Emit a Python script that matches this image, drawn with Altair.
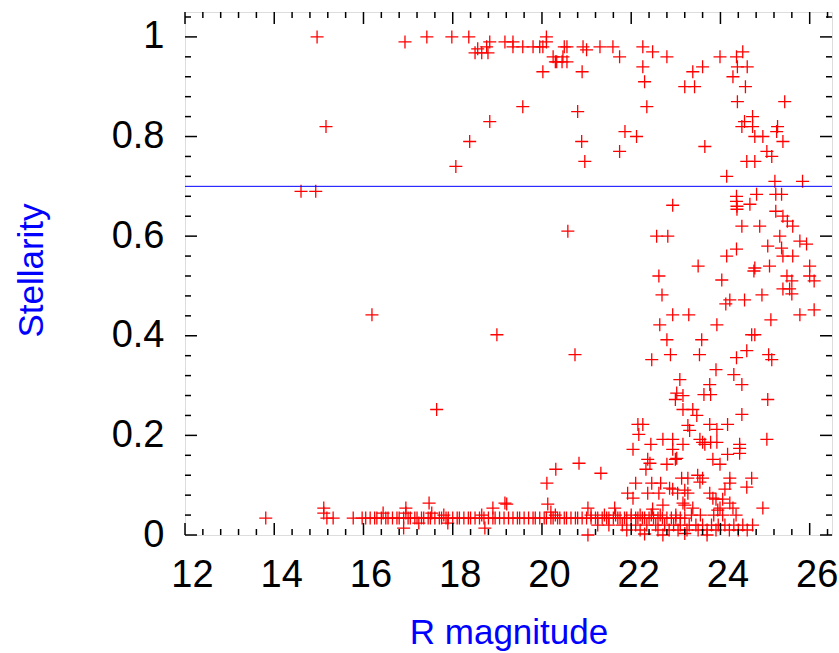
import altair as alt
import pandas as pd

# ---- data: (R magnitude, stellarity) ----
bright_pts = [
    (14.96, 1.0), (15.16, 0.82), (14.6, 0.69), (14.93, 0.69),
    (16.93, 0.99), (17.42, 1.0), (17.98, 1.0), (18.36, 1.0), (18.56, 0.976), (18.5, 0.968),
    (18.79, 0.968), (18.83, 0.99), (18.76, 0.98), (18.65, 0.968),
    (19.17, 0.99), (19.35, 0.99), (19.35, 0.98), (19.57, 0.98), (19.8, 0.98), (19.95, 0.98),
    (20.1, 1.0), (20.1, 0.99), (20.02, 0.98), (20.25, 0.96), (20.33, 0.95), (20.56, 0.95),
    (20.56, 0.98), (20.47, 0.96), (20.5, 0.98), (20.92, 0.98), (21.0, 0.974), (21.3, 0.98),
    (21.59, 0.98), (21.74, 0.96), (20.02, 0.93), (20.9, 0.93), (20.3, 0.95), (20.45, 0.95),
    (22.26, 0.98), (22.48, 0.97), (22.8, 0.96), (22.26, 0.94), (22.3, 0.91), (23.38, 0.93),
    (23.6, 0.94), (23.2, 0.90), (23.42, 0.90), (23.99, 0.96), (24.36, 0.96), (24.5, 0.97),
    (24.38, 0.94), (24.6, 0.94), (24.28, 0.92), (24.56, 0.90), (24.38, 0.87), (25.44, 0.87),
    (19.57, 0.86), (20.8, 0.85), (22.35, 0.86), (20.89, 0.79), (20.96, 0.75), (21.86, 0.81),
    (22.12, 0.80), (21.74, 0.77), (23.65, 0.78),
    (24.72, 0.84), (24.54, 0.83), (24.48, 0.82), (24.72, 0.82), (24.77, 0.80), (24.95, 0.80),
    (25.26, 0.81), (25.28, 0.82), (25.4, 0.79), (25.04, 0.77), (25.15, 0.76), (24.59, 0.75),
    (24.77, 0.75), (24.14, 0.72), (25.22, 0.71), (25.84, 0.71),
    (18.83, 0.83), (18.38, 0.79), (18.07, 0.74),
]

mid_pts = [
    (24.36, 0.68), (24.36, 0.67), (24.37, 0.66), (24.37, 0.654), (24.66, 0.664), (24.81, 0.684),
    (25.24, 0.684), (25.37, 0.684), (25.24, 0.65), (25.4, 0.64), (25.5, 0.63), (25.62, 0.62),
    (22.93, 0.662), (24.48, 0.62), (24.88, 0.62), (20.58, 0.61), (22.57, 0.60), (22.82, 0.60),
    (25.33, 0.60), (25.78, 0.59), (25.93, 0.584), (25.06, 0.58), (25.37, 0.576), (25.4, 0.56),
    (25.62, 0.56), (24.36, 0.574), (24.14, 0.56), (23.5, 0.54), (24.77, 0.536), (25.1, 0.54),
    (26.0, 0.54), (22.62, 0.52), (24.03, 0.512), (24.75, 0.53), (25.49, 0.52), (25.6, 0.51),
    (26.0, 0.52), (26.1, 0.51), (25.4, 0.494), (25.55, 0.494), (25.6, 0.484), (22.69, 0.482),
    (24.21, 0.472), (24.12, 0.464), (24.54, 0.472), (24.93, 0.482), (22.93, 0.442), (23.29, 0.442),
    (22.64, 0.422), (23.92, 0.422), (25.13, 0.432), (25.78, 0.442), (26.1, 0.452),
    (16.19, 0.442), (18.99, 0.402), (17.64, 0.252),
]

faint_pts = [
    (22.8, 0.392), (23.58, 0.392), (24.7, 0.402), (24.77, 0.402), (24.59, 0.37), (20.74, 0.362),
    (22.46, 0.352), (22.88, 0.362), (23.53, 0.362), (24.36, 0.356), (25.08, 0.362), (25.15, 0.352),
    (23.9, 0.332), (24.3, 0.322), (24.48, 0.302), (23.09, 0.312), (23.76, 0.302), (23.16, 0.28),
    (22.99, 0.272), (23.63, 0.282), (23.78, 0.282), (25.06, 0.272), (23.02, 0.285), (23.16, 0.252),
    (23.38, 0.252), (23.47, 0.24), (24.48, 0.242), (23.27, 0.22), (23.31, 0.21), (22.15, 0.222),
    (22.26, 0.222), (22.17, 0.202), (23.76, 0.222), (24.16, 0.222), (23.92, 0.212), (22.71, 0.192),
    (22.93, 0.192), (22.44, 0.182), (23.16, 0.182), (23.6, 0.186), (23.78, 0.186), (23.92, 0.186),
    (24.43, 0.182), (25.04, 0.192), (23.54, 0.192), (23.65, 0.182), (22.04, 0.172), (22.93, 0.172),
    (22.37, 0.152), (22.8, 0.142), (22.99, 0.152), (23.83, 0.152), (24.16, 0.162), (24.43, 0.164),
    (23.99, 0.142), (23.02, 0.154), (22.42, 0.144), (24.43, 0.174), (20.83, 0.144), (20.31, 0.132),
    (21.32, 0.124), (22.33, 0.132), (20.11, 0.104), (23.13, 0.114), (23.27, 0.114), (23.49, 0.12),
    (23.6, 0.114), (24.21, 0.114), (24.7, 0.114), (22.1, 0.104), (22.46, 0.104), (22.66, 0.104),
    (24.59, 0.096), (22.86, 0.094), (22.93, 0.092), (23.2, 0.09), (24.1, 0.092), (21.92, 0.084),
    (22.04, 0.074), (22.37, 0.084), (22.62, 0.084), (23.76, 0.084), (23.83, 0.074), (23.9, 0.072),
    (24.05, 0.072), (23.54, 0.106), (24.21, 0.104), (23.04, 0.084), (23.27, 0.084), (24.21, 0.064),
    (23.16, 0.064), (23.94, 0.05),
]

low_pts = [
    (19.21, 0.062), (20.13, 0.062), (20.2, 0.046), (21.03, 0.054), (21.63, 0.054), (22.71, 0.06),
    (22.48, 0.052), (23.2, 0.06), (23.38, 0.054), (23.99, 0.054), (24.28, 0.054), (24.95, 0.054),
    (13.81, 0.034), (15.11, 0.054), (15.11, 0.044), (15.18, 0.034), (15.32, 0.034), (15.77, 0.034),
    (16.44, 0.044), (16.95, 0.054), (16.95, 0.044), (16.9, 0.014), (17.47, 0.064), (17.53, 0.044),
    (17.24, 0.024), (17.89, 0.024), (18.72, 0.014), (18.9, 0.054), (19.17, 0.064),
]

band_mag = [
    15.97, 16.05, 16.15, 16.25, 16.3, 16.4, 16.5, 16.55, 16.65, 16.75, 16.8, 16.9, 17.0, 17.05,
    17.15, 17.2, 17.3, 17.35, 17.45, 17.5, 17.6, 17.7, 17.75, 17.85, 17.9, 18.0, 18.1, 18.15,
    18.25, 18.35, 18.4, 18.5, 18.6, 18.7, 18.8, 18.9, 18.95, 19.05, 19.15, 19.25, 19.35, 19.45,
    19.5, 19.6, 19.7, 19.8, 19.85, 19.95, 20.05, 20.1, 20.2, 20.25, 20.35, 20.4, 20.5, 20.55,
    20.65, 20.75, 20.8, 20.9, 21.0, 21.1, 21.2, 21.25, 21.35, 21.45, 21.5, 21.6, 21.7, 21.75,
    21.85, 21.9, 22.0, 22.1, 22.15, 22.25, 22.3, 22.4, 22.5, 22.6, 22.7, 22.8, 22.9, 23.0,
    23.1, 23.2,
]
band_stell = 0.034

floor_pts = [
    (21.25, 0.02), (21.5, 0.02), (21.8, 0.02), (22.1, 0.02), (22.35, 0.02), (22.55, 0.02),
    (22.75, 0.02), (22.95, 0.02), (23.1, 0.02), (23.3, 0.02), (23.45, 0.02), (23.6, 0.02),
    (23.8, 0.02), (23.95, 0.02), (24.1, 0.02), (24.3, 0.02), (24.5, 0.02), (24.72, 0.02),
    (21.9, 0.01), (22.2, 0.01), (22.6, 0.01), (22.85, 0.01), (23.05, 0.01), (23.25, 0.01),
    (23.5, 0.01), (23.7, 0.01), (23.9, 0.01), (24.2, 0.01), (24.4, 0.01), (24.6, 0.01),
    (21.03, 0.0), (22.71, 0.0), (23.7, 0.0), (22.3, 0.002), (23.2, 0.003),
    (17.8, 0.04), (18.65, 0.04), (20.3, 0.04), (21.1, 0.04), (21.4, 0.04), (21.65, 0.04),
    (22.0, 0.04), (22.2, 0.04), (22.45, 0.04), (22.65, 0.04), (23.0, 0.04), (23.35, 0.04),
    (23.55, 0.04), (23.85, 0.04), (24.05, 0.04), (24.35, 0.04),
]

threshold = 0.7

x_major = [12, 14, 16, 18, 20, 22, 24, 26]
x_minor = [12.4, 12.8, 13.2, 13.6, 14.4, 14.8, 15.2, 15.6, 16.4, 16.8, 17.2, 17.6,
           18.4, 18.8, 19.2, 19.6, 20.4, 20.8, 21.2, 21.6, 22.4, 22.8, 23.2, 23.6,
           24.4, 24.8, 25.2, 25.6, 26.4]
y_major = [0, 0.2, 0.4, 0.6, 0.8, 1.0]
y_minor = [0.04, 0.08, 0.12, 0.16, 0.24, 0.28, 0.32, 0.36, 0.44, 0.48, 0.52, 0.56,
           0.64, 0.68, 0.72, 0.76, 0.84, 0.88, 0.92, 0.96, 1.04]

# ---- build table ----
pairs = bright_pts + mid_pts + faint_pts + low_pts + floor_pts + [(m, band_stell) for m in band_mag]
pts = pd.DataFrame(pairs, columns=["mag", "stell"])

W, H = 647, 523
FONT = "Liberation Sans"
X0, X1 = 12, 26.5
Y0, Y1 = 0, 1.05

xs = alt.Scale(domain=[X0, X1], nice=False, zero=False)
ys = alt.Scale(domain=[Y0, Y1], nice=False, zero=False)

# tick lengths, expressed in data units of each axis (12 px major, 6 px minor)
XPX = (X1 - X0) / W
YPX = (Y1 - Y0) / H

x_axis = alt.Axis(values=x_major, format="d", ticks=False, domain=False, grid=False,
                  labelFlush=False,
                  labelFontSize=38, labelFont=FONT, labelColor="black",
                  labelPadding=21, labelOffset=7, titleFontSize=35, titleFont=FONT,
                  titleFontWeight="normal", titleColor="#0000ff",
                  titleBaseline="alphabetic", titleY=108)
y_axis = alt.Axis(values=y_major,
                  labelExpr="datum.value == 0 ? '0' : (datum.value == 1 ? '1' : format(datum.value, '.1f'))",
                  ticks=False, domain=False, grid=False, labelFlush=False,
                  labelFontSize=38, labelFont=FONT, labelColor="black",
                  labelPadding=21, titleFontSize=35, titleFont=FONT,
                  titleFontWeight="normal", titleColor="#0000ff",
                  titleBaseline="alphabetic", titleX=-143, titleY=258)

points = alt.Chart(pts).mark_point(
    shape="M-1,0L1,0M0,-1L0,1", size=169, filled=False,
    stroke="#ff0000", strokeWidth=1.3, opacity=1, clip=False,
).encode(
    x=alt.X("mag:Q", scale=xs, title="R magnitude", axis=x_axis),
    y=alt.Y("stell:Q", scale=ys, title="Stellarity", axis=y_axis),
)

hline = alt.Chart(pd.DataFrame({"stell": [threshold]})).mark_rule(
    color="#0000ff", strokeWidth=1
).encode(
    y=alt.Y("stell:Q", scale=ys, title="Stellarity", axis=y_axis),
    x=alt.value(0), x2=alt.value(W),
)

def xticks(vals, npx):
    d = pd.DataFrame({"mag": vals})
    base = alt.Chart(d).mark_rule(color="black", strokeWidth=1.5, clip=False)
    enc = alt.X("mag:Q", scale=xs, title="R magnitude", axis=x_axis)
    bottom = base.encode(x=enc, y=alt.Y(datum=Y0, scale=ys, axis=y_axis, title="Stellarity"),
                         y2=alt.Y2(datum=Y0 + npx * YPX))
    top = base.encode(x=enc, y=alt.Y(datum=Y1, scale=ys, axis=y_axis, title="Stellarity"),
                      y2=alt.Y2(datum=Y1 - npx * YPX))
    return [bottom, top]

def yticks(vals, npx):
    d = pd.DataFrame({"stell": vals})
    base = alt.Chart(d).mark_rule(color="black", strokeWidth=1.5, clip=False)
    enc = alt.Y("stell:Q", scale=ys, title="Stellarity", axis=y_axis)
    left = base.encode(y=enc, x=alt.X(datum=X0, scale=xs, axis=x_axis, title="R magnitude"),
                       x2=alt.X2(datum=X0 + npx * XPX))
    right = base.encode(y=enc, x=alt.X(datum=X1, scale=xs, axis=x_axis, title="R magnitude"),
                        x2=alt.X2(datum=X1 - npx * XPX))
    return [left, right]

layers = [points, hline] + xticks(x_major, 12) + xticks(x_minor, 6) + yticks(y_major, 12) + yticks(y_minor, 6)

chart = alt.layer(*layers).properties(
    width=W, height=H,
    padding={"left": 185, "top": 12, "right": 7, "bottom": 118},
    autosize=alt.AutoSizeParams(type="none"),
).configure_view(
    stroke="black", strokeWidth=2
).configure(background="white")

chart.save("out.html", embed_options={"renderer": "svg", "actions": False})
